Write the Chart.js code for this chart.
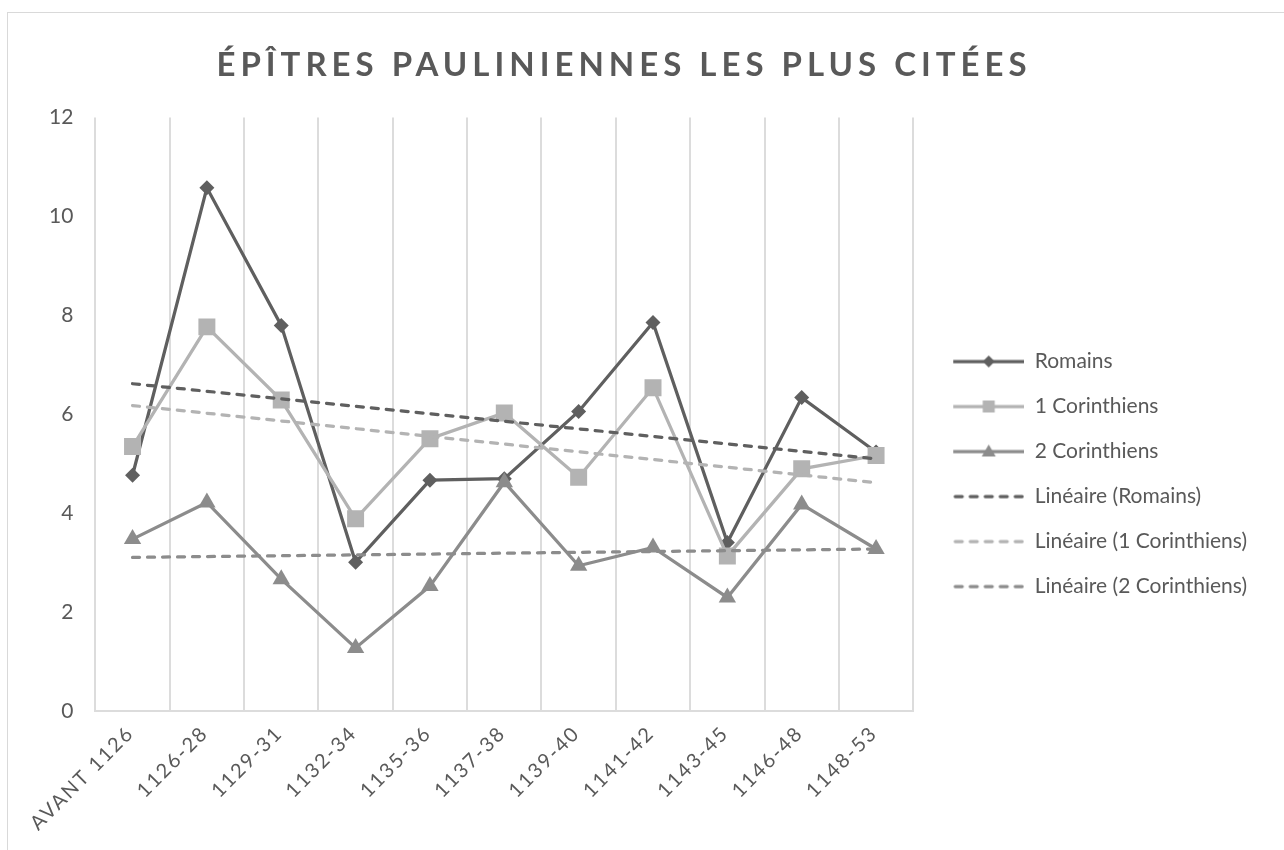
<!DOCTYPE html>
<html lang="fr">
<head>
<meta charset="utf-8">
<title>Épîtres pauliniennes les plus citées</title>
<script src="https://cdn.jsdelivr.net/npm/chart.js@4.4.1/dist/chart.umd.min.js"></script>
<style>
  html, body { margin: 0; padding: 0; background: #fff; }
  #wrap { position: relative; width: 1284px; height: 850px; overflow: hidden; }
  #frame { position: absolute; left: 7px; top: 12px; width: 1290px; height: 850px; border: 1px solid #d9d9d9; box-sizing: border-box; }
  #chart { position: absolute; left: 0; top: 0; }
</style>
</head>
<body>
<div id="wrap">
  <div id="frame"></div>
  <canvas id="chart" width="1284" height="850"></canvas>
</div>
<script>
// periods on the x axis
const periods = ["AVANT 1126", "1126-28", "1129-31", "1132-34", "1135-36", "1137-38",
  "1139-40", "1141-42", "1143-45", "1146-48", "1148-53"];

// citations per period
const romains = [4.77, 10.58, 7.80, 3.01, 4.67, 4.70, 6.06, 7.86, 3.41, 6.34, 5.24];
const corinthiens1 = [5.35, 7.77, 6.29, 3.89, 5.51, 6.03, 4.73, 6.54, 3.14, 4.90, 5.17];
const corinthiens2 = [3.48, 4.22, 2.67, 1.28, 2.53, 4.63, 2.94, 3.31, 2.30, 4.18, 3.28];

// trendline ends (first and last period)
const trendRomains = [6.62, 5.10];
const trend1Cor = [6.18, 4.62];
const trend2Cor = [3.11, 3.28];

const yTicks = [0, 2, 4, 6, 8, 10, 12];

const DARK = "#5f5f5f";
const LIGHT = "#b3b3b3";
const MID = "#8c8c8c";
const TEXT = "#595959";
const LW = 3.25;
const DASH = [7, 8]; // with round caps: ~10px dash, ~5px gap

// only the two ends of a trendline are known, the rest is spanned
function endsOnly(pair) {
  return periods.map((_, i) => (i === 0 ? pair[0] : i === periods.length - 1 ? pair[1] : null));
}

// small canvas used as legend symbol: line (+ marker)
const ICON_W = 87, ICON_GAP = 16;
function legendIcon(color, marker, dashed) {
  const c = document.createElement("canvas");
  c.width = ICON_W;
  c.height = 20;
  const g = c.getContext("2d");
  g.strokeStyle = color;
  g.fillStyle = color;
  g.lineWidth = LW;
  if (dashed) {
    g.setLineDash(DASH);
    g.lineCap = "round";
  }
  g.beginPath();
  g.moveTo(ICON_GAP + (dashed ? 2 : 0), 10);
  g.lineTo(ICON_W - (dashed ? 2 : 0), 10);
  g.stroke();
  g.setLineDash([]);
  const cx = (ICON_GAP + ICON_W) / 2, cy = 10;
  g.beginPath();
  if (marker === "diamond") {
    g.moveTo(cx, cy - 6); g.lineTo(cx + 6, cy); g.lineTo(cx, cy + 6); g.lineTo(cx - 6, cy);
  } else if (marker === "square") {
    g.rect(cx - 6, cy - 6, 12, 12);
  } else if (marker === "triangle") {
    g.moveTo(cx, cy - 7); g.lineTo(cx + 7, cy + 5); g.lineTo(cx - 7, cy + 5);
  }
  g.closePath();
  if (marker) g.fill();
  return c;
}

const icons = [
  legendIcon(DARK, "diamond", false),
  legendIcon(LIGHT, "square", false),
  legendIcon(MID, "triangle", false),
  legendIcon(DARK, null, true),
  legendIcon(LIGHT, null, true),
  legendIcon(MID, null, true)
];

// letter spacing for title and x labels (Chart.js has no option for it)
function spaceOut(obj, method, spacing, dx) {
  const orig = obj[method];
  obj[method] = function (...args) {
    const ctx = this.ctx;
    ctx.save();
    ctx.letterSpacing = spacing;
    ctx.translate(dx, 0);
    orig.apply(this, args);
    ctx.restore();
  };
}

const spacedText = {
  id: "spacedText",
  beforeDraw(chart) {
    if (chart.$spaced) return;
    chart.$spaced = true;
    spaceOut(chart.titleBlock, "draw", "5px", -18);
    spaceOut(chart.scales.x, "drawLabels", "2px", -2);
  }
};

Chart.defaults.font.family = "Lato, 'Open Sans', sans-serif";
Chart.defaults.color = TEXT;

function trend(label, pair, color, order) {
  return {
    label,
    data: endsOnly(pair),
    borderColor: color,
    backgroundColor: color,
    borderWidth: LW,
    borderDash: DASH,
    borderCapStyle: "round",
    pointRadius: 0,
    spanGaps: true,
    order
  };
}

const ctx = document.getElementById("chart").getContext("2d");
new Chart(ctx, {
  type: "line",
  data: {
    labels: periods,
    datasets: [
      {
        label: "Romains",
        data: romains,
        borderColor: DARK,
        backgroundColor: DARK,
        borderWidth: LW,
        pointStyle: "rectRot",
        pointRadius: 7.5,
        pointBorderWidth: 0,
        order: 6
      },
      {
        label: "1 Corinthiens",
        data: corinthiens1,
        borderColor: LIGHT,
        backgroundColor: LIGHT,
        borderWidth: LW,
        pointStyle: "rect",
        pointRadius: 12,
        pointBorderWidth: 0,
        order: 5
      },
      {
        label: "2 Corinthiens",
        data: corinthiens2,
        borderColor: MID,
        backgroundColor: MID,
        borderWidth: LW,
        pointStyle: "triangle",
        pointRadius: 10,
        pointBorderWidth: 0,
        order: 4
      },
      trend("Linéaire (Romains)", trendRomains, DARK, 3),
      trend("Linéaire (1 Corinthiens)", trend1Cor, LIGHT, 2),
      trend("Linéaire (2 Corinthiens)", trend2Cor, MID, 1)
    ]
  },
  options: {
    responsive: false,
    animation: false,
    layout: {
      padding: { left: 27, right: 27, top: 0, bottom: 19 }
    },
    plugins: {
      title: {
        display: true,
        text: "ÉPÎTRES PAULINIENNES LES PLUS CITÉES",
        color: TEXT,
        font: { size: 33, weight: "bold" },
        padding: { top: 46, bottom: 32 }
      },
      legend: {
        position: "right",
        maxWidth: 500,
        // empty title only pushes the entries down like in the original
        title: { display: true, text: " ", font: { size: 10 }, padding: { top: 105, bottom: 0 } },
        labels: {
          usePointStyle: true,
          pointStyleWidth: ICON_W,
          padding: 24,
          color: TEXT,
          font: { size: 21 },
          generateLabels(chart) {
            const items = Chart.defaults.plugins.legend.labels.generateLabels(chart);
            items.sort((a, b) => a.datasetIndex - b.datasetIndex);
            items.forEach((it) => { it.pointStyle = icons[it.datasetIndex]; });
            return items;
          }
        }
      },
      tooltip: { enabled: false }
    },
    scales: {
      x: {
        offset: true,
        grid: { display: true, offset: true, color: "#dcdcdc", lineWidth: 2, drawTicks: false },
        border: { display: true, color: "#dcdcdc", width: 2 },
        ticks: {
          autoSkip: false,
          maxRotation: 45,
          minRotation: 45,
          padding: 10,
          color: TEXT,
          font: { size: 20 }
        }
      },
      y: {
        min: 0,
        max: 12,
        afterBuildTicks(scale) { scale.ticks = yTicks.map((v) => ({ value: v })); },
        grid: { display: false, drawTicks: false },
        border: { display: false },
        ticks: { padding: 22, color: TEXT, font: { size: 21 } }
      }
    }
  },
  plugins: [spacedText]
});
</script>
</body>
</html>
